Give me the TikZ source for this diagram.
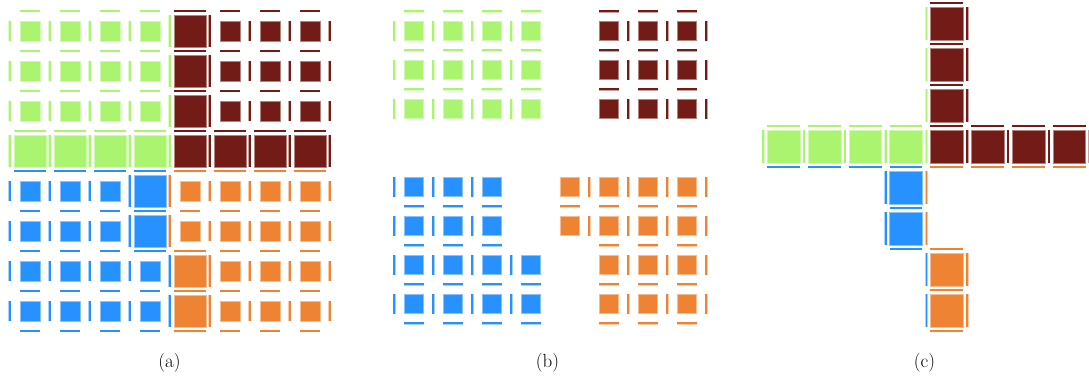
\documentclass[tikz,border=0pt]{standalone}
\usepackage{fontspec}
\definecolor{cG}{RGB}{170,244,112}
\definecolor{cM}{RGB}{115,27,22}
\definecolor{cB}{RGB}{38,145,255}
\definecolor{cO}{RGB}{238,131,52}
\newif\ifbigc
% is cell (#1,#2) one of the enlarged cells?
\newcommand\testbig[2]{%
  \bigcfalse
  \ifnum#1=3 \ifnum#2>-1 \ifnum#2<8 \bigctrue\fi\fi\fi
  \ifnum#2=4 \ifnum#1>-1 \ifnum#1<4 \bigctrue\fi\fi\ifnum#1>5 \ifnum#1<8 \bigctrue\fi\fi\fi
  \ifnum#2=3 \ifnum#1>3 \ifnum#1<6 \bigctrue\fi\fi\fi}
\newcommand\either[4]{\testbig{#1}{#2}\ifbigc\else\testbig{#3}{#4}\fi}
% quadrant colour of a cell (row,col)
\newcommand\qcol[2]{%
  \ifnum#1<4 \ifnum#2<4 \def\qc{cG}\else\def\qc{cM}\fi
  \else \ifnum#2<4 \def\qc{cB}\else\def\qc{cO}\fi\fi}
% colour of vertical link on grid line #1, row #2
\newcommand\vcol[2]{%
  \ifnum#2<4
    \ifnum#1<5 \def\bc{cG}\else\def\bc{cM}\fi
  \else
    \ifnum#1<4 \def\bc{cB}\else
      \ifnum#1>4 \def\bc{cO}\else
        \ifnum#2<6 \def\bc{cO}\else\def\bc{cB}\fi
      \fi
    \fi
  \fi}
% colour of horizontal link on grid line #1, column #2
\newcommand\hcol[2]{%
  \ifnum#2<4
    \ifnum#1<4 \def\bc{cG}\else\def\bc{cB}\fi
  \else
    \ifnum#1<4 \def\bc{cM}\else\def\bc{cO}\fi
  \fi}
\tikzset{
  sq/.style={fill=#1, draw=#1!55!white, line width=0.5pt},
  lnk/.style={draw=#1, line width=1.8pt, preaction={draw=#1!40!white, line width=2.6pt}},
  lab/.style={font=\fontsize{19}{22}\selectfont, anchor=base, inner sep=0pt}
}
\begin{document}
\begin{tikzpicture}[x=1pt,y=-1pt]
\useasboundingbox (0,0) rectangle (1089,386);
% ---------------- panel (a) ----------------
\foreach \ri in {0,...,7}{\foreach \ci in {0,...,7}{%
  \qcol{\ri}{\ci}\testbig{\ri}{\ci}%
  \ifbigc\def\hh{16.25}\else\def\hh{10}\fi
  \path[sq=\qc] ({30+40*\ci-\hh},{31+40*\ri-\hh}) rectangle ++({2*\hh},{2*\hh});
}}
\foreach \k in {0,...,8}{\foreach \ri in {0,...,7}{%
  \either{\ri}{\numexpr\k-1\relax}{\ri}{\k}%
  \ifbigc\def\hh{16.25}\else\def\hh{10}\fi
  \vcol{\k}{\ri}%
  \draw[lnk=\bc] ({9.6+40*\k},{31+40*\ri-\hh}) -- ++(0,{2*\hh});
}}
\foreach \k in {0,...,8}{\foreach \ci in {0,...,7}{%
  \either{\numexpr\k-1\relax}{\ci}{\k}{\ci}%
  \ifbigc\def\hh{16.25}\else\def\hh{10}\fi
  \hcol{\k}{\ci}%
  \draw[lnk=\bc] ({30+40*\ci-\hh},{11+40*\k}) -- ++({2*\hh},0);
}}
% ---------------- panel (b) ----------------
\foreach \ri in {0,...,7}{\foreach \ci in {0,...,7}{%
  \testbig{\ri}{\ci}%
  \ifbigc\else
    \qcol{\ri}{\ci}%
    \pgfmathsetmacro\cx{413.75+39*\ci}\pgfmathsetmacro\cy{30.75+39*\ri}%
    \path[sq=\qc] ({\cx-9.75},{\cy-9.75}) rectangle ++(19.5,19.5);
    \ifnum\ci<4 \def\vs{-1}\def\nc{\numexpr\ci-1\relax}\else\def\vs{1}\def\nc{\numexpr\ci+1\relax}\fi
    \testbig{\ri}{\nc}%
    \ifbigc\else\draw[lnk=\qc] ({\cx+\vs*19.5},{\cy-9.75}) -- ++(0,19.5);\fi
    \ifnum\ri<4 \def\hs{-1}\def\nr{\numexpr\ri-1\relax}\else\def\hs{1}\def\nr{\numexpr\ri+1\relax}\fi
    \testbig{\nr}{\ci}%
    \ifbigc\else\draw[lnk=\qc] ({\cx-9.75},{\cy+\hs*19.5}) -- ++(19.5,0);\fi
  \fi
}}
% ---------------- panel (c) ----------------
\foreach \ri in {0,...,7}{\foreach \ci in {0,...,7}{%
  \testbig{\ri}{\ci}%
  \ifbigc
    \qcol{\ri}{\ci}%
    \pgfmathsetmacro\cx{783.6+40.8*\ci}\pgfmathsetmacro\cy{23.4+41*\ri}%
    \path[sq=\qc] ({\cx-16.35},{\cy-16.35}) rectangle ++(32.7,32.7);
    \vcol{\ci}{\ri}\draw[lnk=\bc] ({\cx-20.4},{\cy-16.35}) -- ++(0,32.7);
    \vcol{\numexpr\ci+1\relax}{\ri}\draw[lnk=\bc] ({\cx+20.4},{\cy-16.35}) -- ++(0,32.7);
    \hcol{\ri}{\ci}\draw[lnk=\bc] ({\cx-16.35},{\cy-20.5}) -- ++(32.7,0);
    \hcol{\numexpr\ri+1\relax}{\ci}\draw[lnk=\bc] ({\cx-16.35},{\cy+20.5}) -- ++(32.7,0);
  \fi
}}
% ---------------- labels ----------------
\node[lab] (la) at (169.5,367) {(a)};
\node[lab] (lb) at (547.5,367) {(b)};
\node[lab] (lc) at (924.5,367) {(c)};
\end{tikzpicture}
\end{document}
